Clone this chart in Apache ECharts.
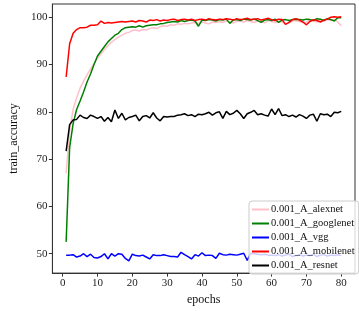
<!DOCTYPE html>
<html>
<head>
<meta charset="utf-8">
<script src="https://cdn.jsdelivr.net/npm/echarts@6/dist/echarts.min.js"></script>
<style>
  html, body { margin: 0; padding: 0; background: #fff; }
  #main { width: 359px; height: 311px; }
</style>
</head>
<body>
<div id="main"></div>
<script>
// epochs 1..80
var epochs = [];
for (var i = 1; i <= 80; i++) epochs.push(i);

var seriesNames = ['0.001_A_alexnet', '0.001_A_googlenet', '0.001_A_vgg', '0.001_A_mobilenet', '0.001_A_resnet'];
var seriesColors = ['#ffc0cb', '#008000', '#0000ff', '#ff0000', '#000000'];

var xTicks = [0, 10, 20, 30, 40, 50, 60, 70, 80];
var yTicks = [50, 60, 70, 80, 90, 100];

var alexnet = [
  67.0, 76.0, 80.5, 83.0, 85.0, 86.5, 87.8, 89.0, 90.2, 91.3,
  92.3, 93.2, 94.0, 94.7, 95.3, 95.8, 96.2, 96.6, 96.8, 97.2,
  97.3, 97.1, 97.4, 97.3, 97.6, 97.8, 97.6, 98.0, 98.2, 98.1,
  98.4, 98.3, 98.6, 98.5, 98.7, 98.6, 98.8, 98.9, 98.7, 99.0,
  98.8, 98.6, 99.0, 98.9, 99.1, 98.9, 99.2, 99.0, 98.8, 99.1,
  99.2, 99.0, 99.3, 99.1, 98.9, 99.2, 99.1, 98.8, 99.3, 99.1,
  98.9, 99.2, 99.0, 98.6, 98.8, 99.2, 99.3, 99.1, 98.9, 99.0,
  99.3, 99.2, 99.0, 99.4, 99.2, 99.5, 99.3, 99.6, 99.0, 98.2
];
var googlenet = [
  52.5, 72.5, 77.5, 80.5, 82.3, 84.2, 86.3, 88.0, 90.0, 91.8,
  92.8, 93.8, 94.8, 95.5, 96.2, 96.6, 97.4, 97.8, 97.9, 98.0,
  97.9, 98.2, 97.9, 98.2, 98.3, 98.4, 98.4, 98.6, 98.7, 98.9,
  99.0, 99.1, 99.0, 99.3, 99.1, 99.3, 99.4, 99.2, 98.1, 99.4,
  99.3, 99.5, 99.4, 99.2, 99.5, 99.4, 99.6, 98.7, 99.4, 99.5,
  99.3, 99.6, 99.5, 99.4, 99.6, 99.3, 98.9, 99.4, 99.5, 99.3,
  99.6, 98.9, 99.4, 99.5, 99.3, 99.5, 99.6, 99.5, 99.4, 99.6,
  99.5, 99.3, 99.7, 99.6, 99.3, 99.7, 99.5, 99.2, 99.9, 99.9
];
var vgg = [
  49.7, 49.7, 49.8, 49.3, 49.5, 50.0, 49.4, 49.9, 49.2, 49.1,
  49.4, 50.0, 48.9, 50.0, 49.5, 50.0, 49.9, 49.0, 48.5, 49.9,
  49.6, 49.5, 49.7, 49.3, 48.9, 49.8, 49.6, 49.6, 49.8, 49.6,
  49.4, 49.4, 49.3, 50.3, 49.8, 49.4, 48.9, 49.8, 49.5, 50.2,
  49.6, 49.7, 49.6, 49.0, 50.1, 49.8, 49.7, 49.9, 49.8, 49.7,
  49.9, 50.1, 48.6, 50.1, 50.0, 49.9, 49.8, 49.9, 49.7, 49.7,
  49.6, 49.8, 49.5, 49.7, 49.9, 49.4, 49.6, 49.8, 49.5, 49.7,
  49.6, 49.9, 49.4, 49.7, 49.8, 49.5, 49.7, 49.6, 49.8, 49.6
];
var mobilenet = [
  87.4, 94.4, 96.6, 97.4, 97.8, 97.8, 97.9, 98.3, 98.3, 98.4,
  99.2, 98.7, 98.9, 98.8, 98.9, 99.0, 99.1, 99.0, 99.1, 99.2,
  99.0, 99.3, 99.2, 99.0, 99.4, 99.3, 99.5, 99.2, 99.4, 99.3,
  99.5, 99.6, 99.3, 99.5, 99.6, 99.4, 99.6, 99.3, 99.5, 99.6,
  99.4, 99.7, 99.5, 99.4, 99.6, 99.5, 99.7, 99.6, 99.4, 99.7,
  99.5, 99.6, 99.8, 99.5, 99.6, 99.7, 99.4, 99.6, 99.8, 99.5,
  99.3, 99.6, 99.5, 98.5, 98.9, 99.5, 99.7, 99.4, 99.0, 98.4,
  99.1, 99.5, 99.3, 99.0, 99.4, 99.6, 100.0, 100.1, 100.0, 100.1
];
var resnet = [
  71.7, 77.3, 78.3, 78.4, 79.3, 78.8, 78.6, 79.3, 79.0, 78.6,
  79.0, 78.0, 78.8, 77.9, 80.4, 78.6, 79.7, 78.3, 78.8, 79.0,
  79.3, 78.1, 79.0, 79.2, 78.7, 79.8, 78.7, 78.1, 79.0, 78.9,
  79.0, 79.0, 79.3, 79.4, 79.6, 79.2, 79.4, 79.0, 79.5, 79.4,
  79.6, 79.9, 79.3, 79.8, 80.0, 78.6, 80.1, 79.4, 79.7, 80.3,
  79.6, 78.6, 79.6, 79.9, 80.3, 79.4, 79.6, 79.3, 79.1, 80.6,
  79.4, 80.7, 79.2, 79.4, 79.0, 79.3, 78.9, 79.4, 79.1, 78.6,
  79.3, 79.5, 78.0, 79.6, 79.4, 79.5, 79.0, 79.9, 79.8, 80.1
];

var allValues = [alexnet, googlenet, vgg, mobilenet, resnet];

function pairs(vals) {
  return epochs.map(function (e, i) { return [e, vals[i]]; });
}

var font = 'Liberation Serif';
var chart = echarts.init(document.getElementById('main'));

chart.setOption({
  animation: false,
  backgroundColor: '#fff',
  grid: {
    left: 43, right: 4, top: 4, bottom: 32,
    show: true,
    borderColor: '#333',
    borderWidth: 1
  },
  legend: {
    orient: 'vertical',
    left: 249,
    top: 201,
    data: seriesNames,
    icon: 'rect',
    itemWidth: 17,
    itemHeight: 2,
    itemGap: 3,
    padding: [3, 4, 3, 3],
    backgroundColor: 'rgba(255,255,255,0.8)',
    borderColor: '#ccc',
    borderWidth: 1,
    borderRadius: 3,
    textStyle: {
      fontFamily: font,
      fontSize: 10.5,
      lineHeight: 11,
      color: '#111',
      padding: [0, 0, 0, -3]
    }
  },
  xAxis: {
    type: 'value',
    min: -2.95,
    max: 83.95,
    name: 'epochs',
    nameLocation: 'middle',
    nameGap: 20,
    nameTextStyle: { fontFamily: font, fontSize: 12, color: '#111' },
    axisLine: { show: true, onZero: false, lineStyle: { color: '#333', width: 1 } },
    axisTick: { show: true, customValues: xTicks, length: 3.5, lineStyle: { color: '#333' } },
    axisLabel: { customValues: xTicks, fontFamily: font, fontSize: 11, color: '#222', margin: 5 },
    splitLine: { show: false }
  },
  yAxis: {
    type: 'value',
    min: 45.9,
    max: 102.8,
    name: 'train_accuracy',
    nameLocation: 'middle',
    nameGap: 28,
    nameTextStyle: { fontFamily: font, fontSize: 12, color: '#111' },
    axisLine: { show: true, onZero: false, lineStyle: { color: '#333', width: 1 } },
    axisTick: { show: true, customValues: yTicks, length: 3.5, lineStyle: { color: '#333' } },
    axisLabel: { customValues: yTicks, fontFamily: font, fontSize: 11, color: '#222', margin: 5 },
    splitLine: { show: false }
  },
  series: seriesNames.map(function (name, k) {
    return {
      name: name,
      type: 'line',
      data: pairs(allValues[k]),
      showSymbol: false,
      symbol: 'none',
      color: seriesColors[k],
      lineStyle: { width: 1.5, color: seriesColors[k] }
    };
  })
});
</script>
</body>
</html>
